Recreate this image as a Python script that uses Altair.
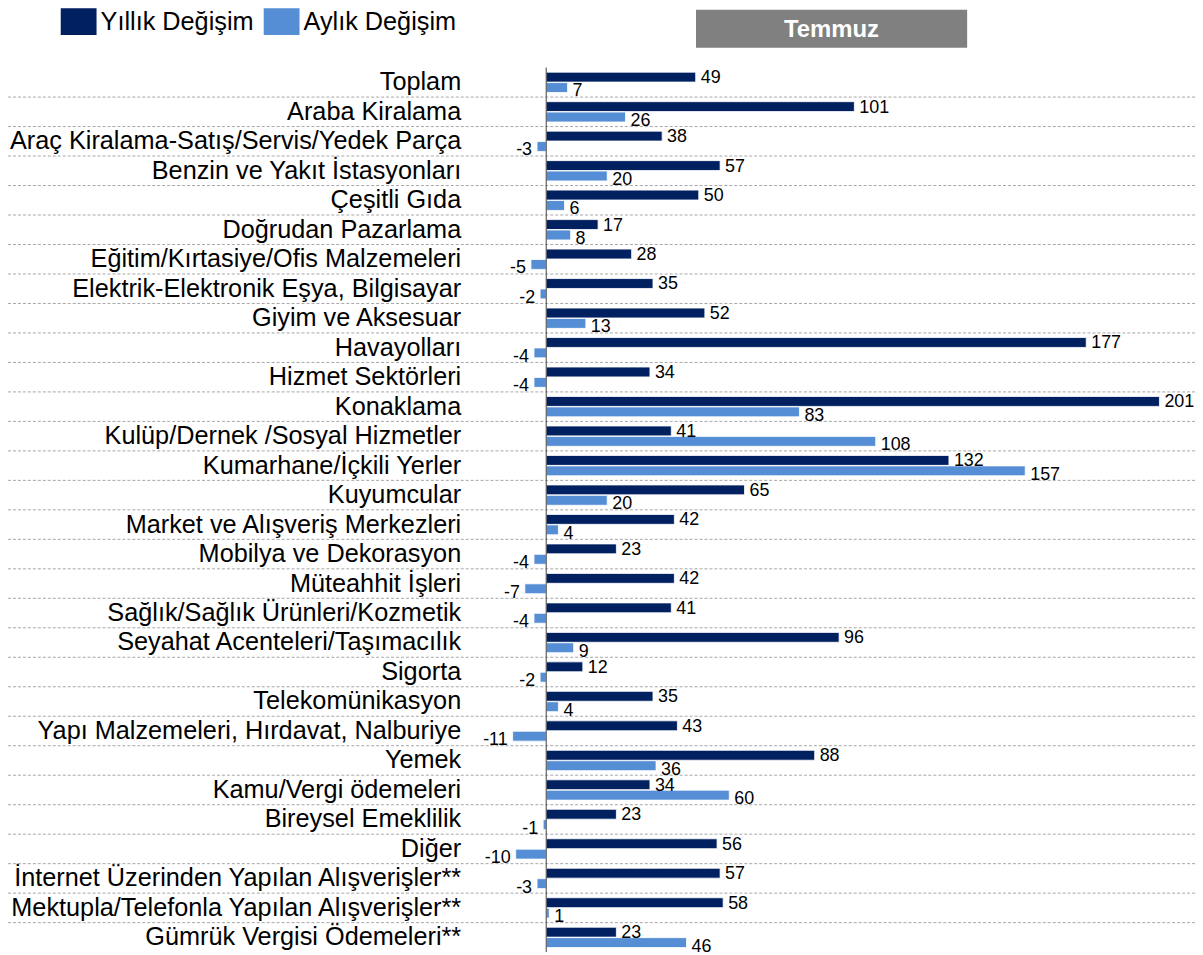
import altair as alt
import pandas as pd

categories = [
    "Toplam", "Araba Kiralama", "Araç Kiralama-Satış/Servis/Yedek Parça",
    "Benzin ve Yakıt İstasyonları", "Çeşitli Gıda", "Doğrudan Pazarlama",
    "Eğitim/Kırtasiye/Ofis Malzemeleri", "Elektrik-Elektronik Eşya, Bilgisayar",
    "Giyim ve Aksesuar", "Havayolları", "Hizmet Sektörleri", "Konaklama",
    "Kulüp/Dernek /Sosyal Hizmetler", "Kumarhane/İçkili Yerler", "Kuyumcular",
    "Market ve Alışveriş Merkezleri", "Mobilya ve Dekorasyon", "Müteahhit İşleri",
    "Sağlık/Sağlık Ürünleri/Kozmetik", "Seyahat Acenteleri/Taşımacılık", "Sigorta",
    "Telekomünikasyon", "Yapı Malzemeleri, Hırdavat, Nalburiye", "Yemek",
    "Kamu/Vergi ödemeleri", "Bireysel Emeklilik", "Diğer",
    "İnternet Üzerinden Yapılan Alışverişler**",
    "Mektupla/Telefonla Yapılan Alışverişler**",
    "Gümrük Vergisi Ödemeleri**",
]
yillik = [49, 101, 38, 57, 50, 17, 28, 35, 52, 177, 34, 201, 41, 132, 65, 42, 23, 42,
          41, 96, 12, 35, 43, 88, 34, 23, 56, 57, 58, 23]
aylik = [7, 26, -3, 20, 6, 8, -5, -2, 13, -4, -4, 83, 108, 157, 20, 4, -4, -7,
         -4, 9, -2, 4, -11, 36, 60, -1, -10, -3, 1, 46]
series_names = ["Yıllık Değişim", "Aylık Değişim"]
series_colors = ["#002060", "#558ED5"]
panel_title = "Temmuz"

rows = []
for c, a, b in zip(categories, yillik, aylik):
    rows.append({"cat": c, "series": series_names[0], "value": a})
    rows.append({"cat": c, "series": series_names[1], "value": b})
df = pd.DataFrame(rows)
sep_df = pd.DataFrame({"cat": categories[1:]})

W, H = 693, 889
PAD_L = 498.0
PAD_T = 57.5
FONT = "Liberation Sans"

y_enc = alt.Y("cat:N", sort=categories, title=None,
              scale=alt.Scale(paddingInner=0, paddingOuter=0),
              axis=alt.Axis(ticks=False, domain=False, labelFontSize=25.4, labelColor="black",
                            labelPadding=43, labelLimit=600, labelFont=FONT, grid=False))
yoff = alt.YOffset("series:N", scale=alt.Scale(domain=series_names, paddingOuter=0.44, paddingInner=0.05))
x_enc = alt.X("value:Q", scale=alt.Scale(domain=[-14, 212], nice=False, zero=False), axis=None)

base = alt.Chart(df).transform_calculate(label="'' + datum.value")

bars = base.mark_bar(stroke="white", strokeWidth=0.8).encode(
    y=y_enc, yOffset=yoff, x=x_enc,
    color=alt.Color("series:N", scale=alt.Scale(domain=series_names, range=series_colors),
                    legend=alt.Legend(orient="none", legendX=-445, legendY=-64.5, direction="horizontal",
                                      title=None, symbolType="M-1,-0.75L1,-0.75L1,0.75L-1,0.75Z",
                                      symbolSize=1296, labelFontSize=25.4, labelOffset=4, columnPadding=10,
                                      symbolStrokeWidth=0, padding=0, labelLimit=400, labelFont=FONT,
                                      labelColor="black", symbolOpacity=1)),
)

text_layers = []
for s, dy in zip(series_names, [1, 4]):
    for sign in ["pos", "neg"]:
        cond = "datum.value >= 0" if sign == "pos" else "datum.value < 0"
        t = base.transform_filter(f"datum.series == '{s}'").transform_filter(cond).mark_text(
            align="left" if sign == "pos" else "right", dx=5 if sign == "pos" else -5, dy=dy,
            baseline="middle", fontSize=18, font=FONT, color="black"
        ).encode(y=alt.Y("cat:N", sort=categories), yOffset=yoff, x=x_enc, text="label:N")
        text_layers.append(t)

seps = alt.Chart(sep_df).mark_rule(color="#a6a6a6", strokeWidth=1, strokeDash=[3, 2]).encode(
    y=alt.Y("cat:N", sort=categories, bandPosition=0),
    x=alt.value(-PAD_L), x2=alt.value(W + 5),
)

zero_df = pd.DataFrame({"z": [0]})
zero_line = alt.Chart(zero_df).mark_rule(color="#404040", strokeWidth=1).encode(
    x=alt.X("z:Q", scale=alt.Scale(domain=[-14, 212], nice=False, zero=False), axis=None),
    y=alt.value(0), y2=alt.value(H),
)

title_df = pd.DataFrame({"t": [panel_title]})
title_box = alt.Chart(title_df).mark_rect(color="#808080").encode(
    x=alt.value(193.5), x2=alt.value(466), y=alt.value(-58.2), y2=alt.value(-20),
)
title_text = alt.Chart(title_df).mark_text(color="white", fontSize=24, fontWeight="bold", font=FONT,
                                            baseline="middle", align="center").encode(
    x=alt.value(329.7), y=alt.value(-38), text="t:N",
)

chart = alt.layer(seps, bars, zero_line, *text_layers, title_box, title_text).properties(
    width=W, height=H,
    autosize=alt.AutoSizeParams(type="none"),
    padding={"left": PAD_L, "top": PAD_T, "right": 2, "bottom": 0},
).configure(font=FONT, view=alt.ViewConfig(stroke=None))

chart.save("out.html", embed_options={"renderer": "svg", "actions": False})
